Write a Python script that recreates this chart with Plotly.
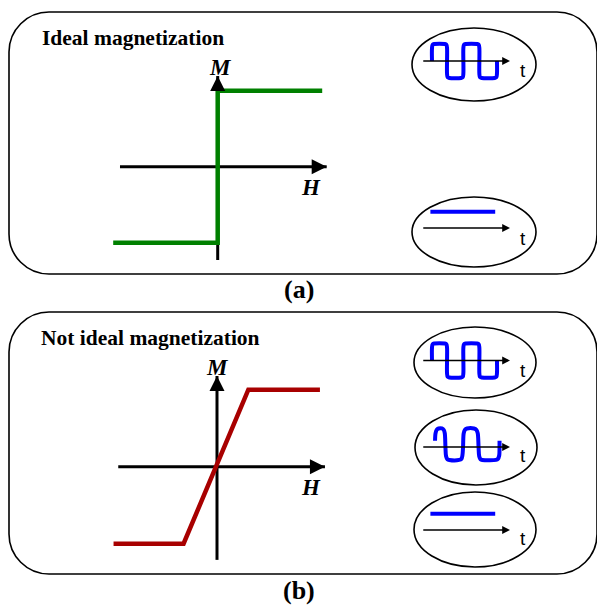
import plotly.graph_objects as go

# ---------------- data ----------------
# Ideal magnetization curve (H, M in normalised units)
ideal_H = [-1.0, 0.0, 0.0, 1.0]
ideal_M = [-1.0, -1.0, 1.0, 1.0]
# Not ideal magnetization curve
nonideal_H = [-0.99, -0.32, 0.30, 0.985]
nonideal_M = [-1.0, -1.0, 1.0, 1.0]

# square-wave response (time t, value v)
square_t = [0.00, 0.00, 0.04, 0.14, 0.80, 0.90, 0.94, 0.94, 0.98, 1.08, 1.82, 1.92, 1.96,
            1.96, 2.00, 2.10, 2.82, 2.92, 2.96, 2.96, 3.00, 3.10, 3.92, 4.02, 4.06, 4.06]
square_v = [0.00, 0.75, 0.96, 1.00, 1.00, 0.96, 0.75, -0.75, -0.96, -1.00, -1.00, -0.96, -0.75,
            0.75, 0.96, 1.00, 1.00, 0.96, 0.75, -0.75, -0.96, -1.00, -1.00, -0.96, -0.75, 0.00]
# distorted response
distorted_t = [0.19, 0.22, 0.30, 0.41, 0.62, 0.74, 0.80, 0.84, 0.88, 0.96, 1.08, 1.70, 1.84, 1.90, 1.94,
               1.98, 2.06, 2.19, 2.62, 2.78, 2.86, 2.91, 2.95, 3.03, 3.14, 4.00, 4.12, 4.20, 4.22, 4.22]
distorted_v = [0.37, 0.80, 1.02, 1.09, 1.09, 1.00, 0.80, 0.00, -0.55, -0.72, -0.76, -0.76, -0.70, -0.50, 0.00,
               0.80, 1.02, 1.09, 1.09, 1.00, 0.80, 0.00, -0.55, -0.72, -0.76, -0.76, -0.70, -0.50, 0.00, 0.37]
# constant (DC) response
dc_t = [-0.10, 3.95]
dc_v = [0.95, 0.95]

# axis extents (H/M diagrams and time axes)
mh_a_H = [-0.935, 1.043]
mh_a_M = [-1.228, 1.193]
mh_b_H = [-0.945, 1.033]
mh_b_M = [-1.21, 1.178]
time_axis = [-0.64, 4.875]

titles = ["Ideal magnetization", "Not ideal magnetization"]
panel_labels = ["(a)", "(b)"]

# ---------------- layout helpers ----------------
# the page body has an 8px margin, so the figure is 597px and offset by 8px
OFF = 8
FIG = 597
SERIF = "Liberation Serif"
SANS = "Liberation Sans"
GREEN = "#008000"
RED = "#A80000"
BLUE = "#0000FF"

fig = go.Figure()

axes = {}


def add_axes(n, px_x, px_y, xr, yr):
    axes["xaxis%d" % n] = dict(domain=[(px_x[0] - OFF) / FIG, (px_x[1] - OFF) / FIG], range=xr,
                               visible=False, fixedrange=True, anchor="y%d" % n)
    axes["yaxis%d" % n] = dict(domain=[1 - (px_y[1] - OFF) / FIG, 1 - (px_y[0] - OFF) / FIG], range=yr,
                               visible=False, fixedrange=True, anchor="x%d" % n)


# main pixel canvas (coordinates = page pixels)
axes["xaxis"] = dict(domain=[0, 1], range=[OFF, OFF + FIG], visible=False, fixedrange=True)
axes["yaxis"] = dict(domain=[0, 1], range=[OFF + FIG, OFF], visible=False, fixedrange=True)


def mh_axes(n, cx, cy, sx, sy, px_x, px_y):
    xr = [(px_x[0] - cx) / sx, (px_x[1] - cx) / sx]
    yr = [(cy - px_y[1]) / sy, (cy - px_y[0]) / sy]
    add_axes(n, px_x, px_y, xr, yr)


mh_axes(2, 217.7, 166.7, 104.5, 76.0, (100, 340), (55, 275))
mh_axes(3, 217.0, 466.7, 104.5, 77.0, (100, 340), (355, 575))


def wave_axes(n, cy):
    px_x = (405, 545)
    px_y = (cy - 40, cy + 40)
    xr = [(px_x[0] - 432) / 16.0, (px_x[1] - 432) / 16.0]
    yr = [-40 / 17.0, 40 / 17.0]
    add_axes(n, px_x, px_y, xr, yr)


wave_axes(4, 61.0)
wave_axes(5, 228.0)
wave_axes(6, 360.5)
wave_axes(7, 447.0)
wave_axes(8, 530.0)

annotations = []


def arrow(xref, yref, x0, y0, x1, y1, width, size=1.0):
    annotations.append(dict(x=x1, y=y1, ax=x0, ay=y0, xref=xref, yref=yref, axref=xref, ayref=yref,
                            showarrow=True, arrowhead=2, arrowsize=size, arrowwidth=width,
                            arrowcolor="black", text=""))


# ---- M-H diagrams ----
for n, Hx, Mx, hx, mx, col in [(2, ideal_H, ideal_M, mh_a_H, mh_a_M, GREEN),
                               (3, nonideal_H, nonideal_M, mh_b_H, mh_b_M, RED)]:
    xa, ya = "x%d" % n, "y%d" % n
    fig.add_trace(go.Scatter(x=hx, y=[0, 0], xaxis=xa, yaxis=ya, mode="lines",
                             line=dict(color="black", width=3), hoverinfo="skip", showlegend=False))
    fig.add_trace(go.Scatter(x=[0, 0], y=mx, xaxis=xa, yaxis=ya, mode="lines",
                             line=dict(color="black", width=3), hoverinfo="skip", showlegend=False))
    fig.add_trace(go.Scatter(x=Hx, y=Mx, xaxis=xa, yaxis=ya, mode="lines",
                             line=dict(color=col, width=4.5), hoverinfo="skip", showlegend=False))
    arrow(xa, ya, hx[1] - 0.15, 0, hx[1], 0, 3, 1.0)
    arrow(xa, ya, 0, mx[1] - 0.2, 0, mx[1], 3, 1.0)

# ---- time responses ----
for n, tt, vv in [(4, square_t, square_v), (5, dc_t, dc_v), (6, square_t, square_v),
                  (7, distorted_t, distorted_v), (8, dc_t, dc_v)]:
    xa, ya = "x%d" % n, "y%d" % n
    fig.add_trace(go.Scatter(x=tt, y=vv, xaxis=xa, yaxis=ya, mode="lines",
                             line=dict(color=BLUE, width=4, shape="spline", smoothing=0.9),
                             hoverinfo="skip", showlegend=False))
    arrow(xa, ya, time_axis[0], 0, time_axis[1], 0, 1.3, 1.2)

# ---- boxes and ellipses ----
shapes = []


def rounded_box(x0, y0, x1, y1, r):
    k = 0.552 * r
    p = (f"M {x0 + r},{y0} L {x1 - r},{y0} C {x1 - r + k},{y0} {x1},{y0 + r - k} {x1},{y0 + r} "
         f"L {x1},{y1 - r} C {x1},{y1 - r + k} {x1 - r + k},{y1} {x1 - r},{y1} "
         f"L {x0 + r},{y1} C {x0 + r - k},{y1} {x0},{y1 - r + k} {x0},{y1 - r} "
         f"L {x0},{y0 + r} C {x0},{y0 + r - k} {x0 + r - k},{y0} {x0 + r},{y0} Z")
    shapes.append(dict(type="path", path=p, xref="x", yref="y", line=dict(color="black", width=1.6)))


rounded_box(9, 12, 597, 274, 40)
rounded_box(9, 312, 597, 574, 40)

for (ex0, ey0, ex1, ey1) in [(412, 28, 536, 101), (412, 197, 536, 267), (414, 327, 536, 398),
                             (415, 410, 537, 485), (414, 492, 536, 567)]:
    shapes.append(dict(type="circle", xref="x", yref="y", x0=ex0, y0=ey0, x1=ex1, y1=ey1,
                       line=dict(color="black", width=1.6)))


# ---- text ----
def text(x, y, s, size, family, xanchor="center", color="black"):
    annotations.append(dict(x=x, y=y, xref="x", yref="y", text=s, showarrow=False,
                            xanchor=xanchor, yanchor="middle",
                            font=dict(family=family, size=size, color=color)))


text(40, 38, "<b>%s</b>" % titles[0], 21.5, SERIF, xanchor="left")
text(39, 338, "<b>%s</b>" % titles[1], 21.5, SERIF, xanchor="left")
text(299, 289, "<b>%s</b>" % panel_labels[0], 26, SERIF)
text(299, 590, "<b>%s</b>" % panel_labels[1], 26, SERIF)
for (mx_, my_), (hx_, hy_) in [((220, 67), (311, 187)), ((217, 367), (311, 487))]:
    text(mx_, my_, "<b><i>M</i></b>", 23, SERIF)
    text(hx_, hy_, "<b><i>H</i></b>", 23, SERIF)
for ty in [70, 238, 370, 455, 538]:
    text(523, ty, "t", 19, SANS)

fig.update_layout(width=FIG, height=FIG, margin=dict(l=0, r=0, t=0, b=0),
                  paper_bgcolor="white", plot_bgcolor="rgba(0,0,0,0)",
                  shapes=shapes, annotations=annotations, showlegend=False, **axes)

fig.write_html("out.html")
